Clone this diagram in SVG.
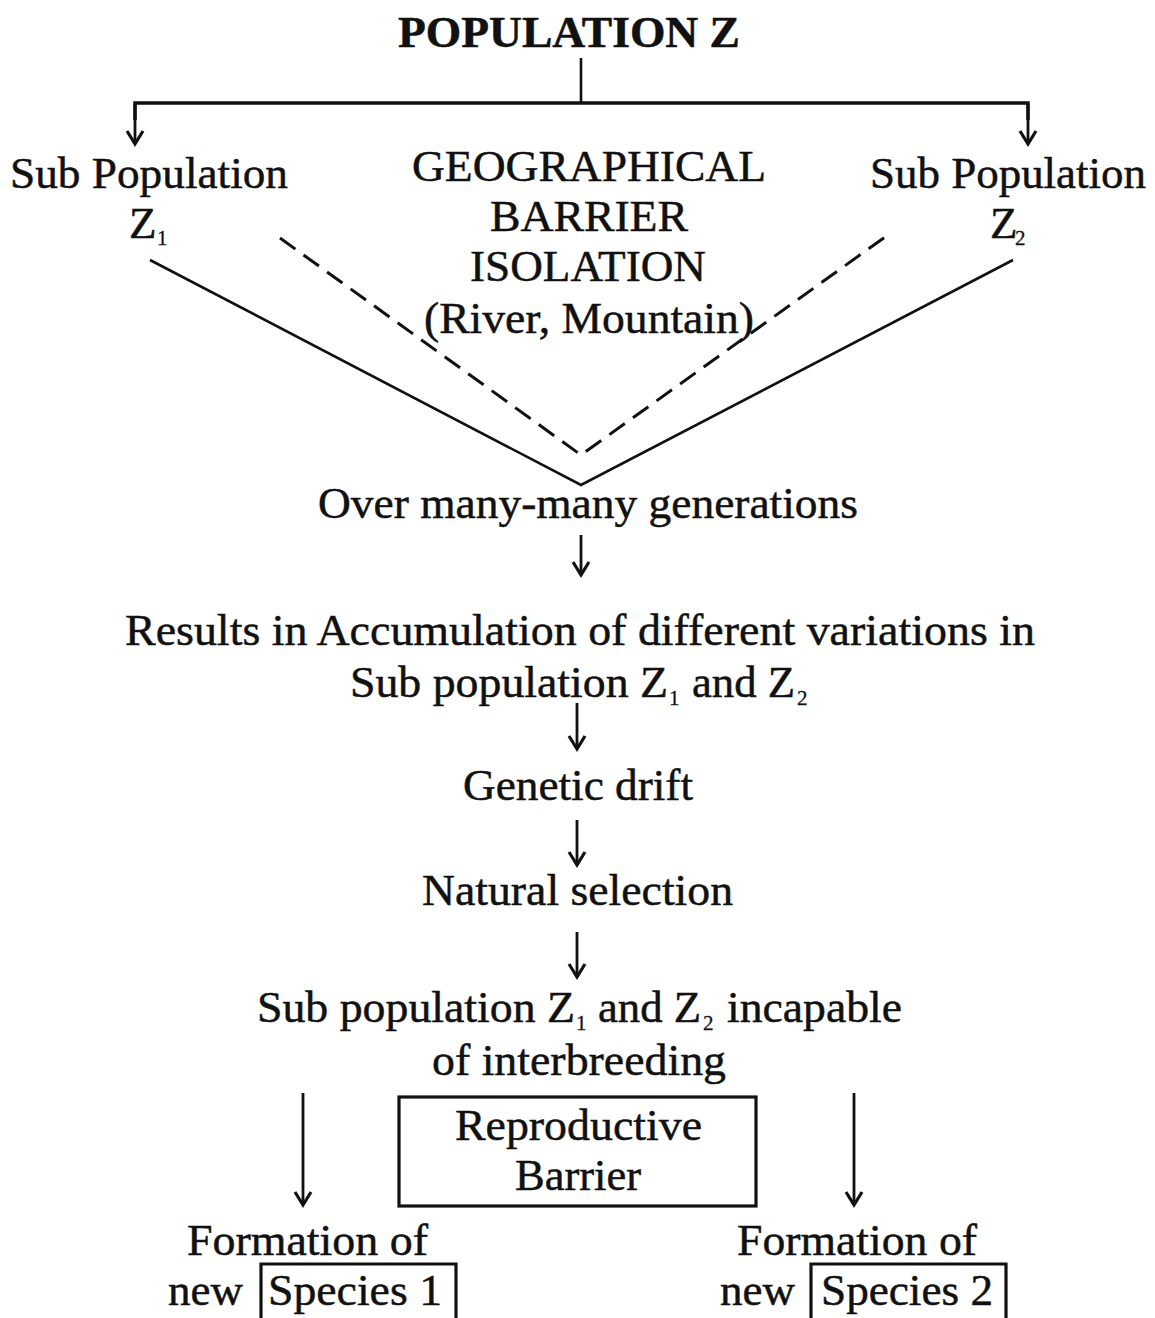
<svg xmlns="http://www.w3.org/2000/svg" width="1155" height="1318" viewBox="0 0 1155 1318">
<style>
text{font-family:"Liberation Serif","Times New Roman",serif;font-size:45px;fill:#111111;stroke:#111111;stroke-width:0.5}
.t{font-weight:bold;font-size:44px}
.s{font-size:21px;stroke-width:0.3}
.ln{stroke:#111111;stroke-width:2.6;fill:none}
.thick{stroke:#111111;stroke-width:3.5;fill:none}
.dash{stroke:#111111;stroke-width:3;fill:none;stroke-dasharray:19 10}
.box{stroke:#111111;stroke-width:3.2;fill:none}
.arr{stroke:#111111;stroke-width:2.8;fill:none;marker-end:url(#ah)}
</style>
<defs>
<marker id="ah" markerUnits="userSpaceOnUse" viewBox="-20 -15 30 30" markerWidth="30" markerHeight="30" refX="0" refY="0" orient="auto" overflow="visible">
<path d="M-13,-8 L0,0 L-13,8" stroke="#111111" stroke-width="3.2" fill="none"/>
</marker>
</defs>
<rect width="1155" height="1318" fill="#ffffff"/>
<g id="connectors">
<line class="ln" x1="581" y1="58" x2="581" y2="103"/>
<polyline class="thick" points="135,120 135,103 1028,103 1028,120"/>
<line class="arr" x1="135" y1="104" x2="135" y2="144"/>
<line class="arr" x1="1028" y1="104" x2="1028" y2="144"/>
<polyline class="ln" points="150,260 581,485 1013,260"/>
<polyline class="dash" points="280,238 581,455 892,232"/>
<line class="arr" x1="581" y1="535" x2="581" y2="575"/>
<line class="arr" x1="577" y1="703" x2="577" y2="749"/>
<line class="arr" x1="577" y1="820" x2="577" y2="865"/>
<line class="arr" x1="577" y1="932" x2="577" y2="977"/>
<line class="arr" x1="303" y1="1093" x2="303" y2="1205"/>
<line class="arr" x1="854" y1="1093" x2="854" y2="1205"/>
</g>
<g id="population-z">
<text class="t" x="398" y="47" textLength="342" lengthAdjust="spacingAndGlyphs">POPULATION Z</text>
</g>
<g id="sub-population-z1">
<text x="10" y="188" textLength="278" lengthAdjust="spacingAndGlyphs">Sub Population</text>
<text x="129" y="238">Z</text>
<text class="s" x="157" y="245">1</text>
</g>
<g id="geographical-barrier">
<text x="412" y="181" textLength="354" lengthAdjust="spacingAndGlyphs">GEOGRAPHICAL</text>
<text x="490" y="231" textLength="198" lengthAdjust="spacingAndGlyphs">BARRIER</text>
<text x="470" y="281" textLength="236" lengthAdjust="spacingAndGlyphs">ISOLATION</text>
<text x="424" y="333" textLength="330" lengthAdjust="spacingAndGlyphs">(River, Mountain)</text>
</g>
<g id="sub-population-z2">
<text x="870" y="188" textLength="276" lengthAdjust="spacingAndGlyphs">Sub Population</text>
<text x="990" y="238">Z</text>
<text class="s" x="1015" y="245">2</text>
</g>
<g id="generations">
<text x="318" y="518" textLength="540" lengthAdjust="spacingAndGlyphs">Over many-many generations</text>
</g>
<g id="accumulation">
<text x="125" y="645" textLength="910" lengthAdjust="spacingAndGlyphs">Results in Accumulation of different variations in</text>
<text x="350" y="697" textLength="318" lengthAdjust="spacingAndGlyphs">Sub population Z</text>
<text class="s" x="669" y="705">1</text>
<text x="692" y="697" textLength="103" lengthAdjust="spacingAndGlyphs">and Z</text>
<text class="s" x="797" y="705">2</text>
</g>
<g id="genetic-drift">
<text x="463" y="800" textLength="230" lengthAdjust="spacingAndGlyphs">Genetic drift</text>
</g>
<g id="natural-selection">
<text x="422" y="905" textLength="311" lengthAdjust="spacingAndGlyphs">Natural selection</text>
</g>
<g id="incapable">
<text x="257" y="1022" textLength="318" lengthAdjust="spacingAndGlyphs">Sub population Z</text>
<text class="s" x="576" y="1030">1</text>
<text x="598" y="1022" textLength="103" lengthAdjust="spacingAndGlyphs">and Z</text>
<text class="s" x="703" y="1030">2</text>
<text x="727" y="1022" textLength="175" lengthAdjust="spacingAndGlyphs">incapable</text>
<text x="432" y="1075" textLength="294" lengthAdjust="spacingAndGlyphs">of interbreeding</text>
</g>
<g id="reproductive-barrier">
<rect class="box" x="399" y="1097" width="357" height="109"/>
<text x="455" y="1140" textLength="247" lengthAdjust="spacingAndGlyphs">Reproductive</text>
<text x="515" y="1190" textLength="126" lengthAdjust="spacingAndGlyphs">Barrier</text>
</g>
<g id="species-1">
<text x="187" y="1255" textLength="241" lengthAdjust="spacingAndGlyphs">Formation of</text>
<text x="168" y="1305" textLength="75" lengthAdjust="spacingAndGlyphs">new</text>
<path class="box" d="M261,1330 V1264 H456 V1330"/>
<text x="268" y="1305" textLength="174" lengthAdjust="spacingAndGlyphs">Species 1</text>
</g>
<g id="species-2">
<text x="737" y="1255" textLength="240" lengthAdjust="spacingAndGlyphs">Formation of</text>
<text x="720" y="1305" textLength="75" lengthAdjust="spacingAndGlyphs">new</text>
<path class="box" d="M811,1330 V1264 H1006 V1330"/>
<text x="821" y="1305" textLength="172" lengthAdjust="spacingAndGlyphs">Species 2</text>
</g>
</svg>
